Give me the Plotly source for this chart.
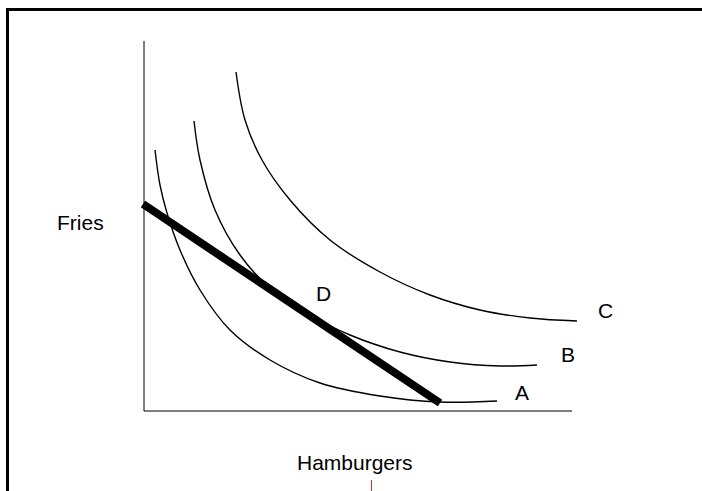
import plotly.graph_objects as go

# Indifference curves (Hamburgers on x, Fries on y)
curve_a_x = [11, 16, 23, 36, 56, 86, 126, 176, 236, 296, 353]
curve_a_y = [261, 226, 198, 161, 121, 81, 51, 28, 15, 9, 10]

curve_b_x = [50, 56, 71, 96, 128, 166, 206, 256, 306, 356, 393]
curve_b_y = [290, 251, 201, 156, 121, 96, 76, 59, 49, 45, 46]

curve_c_x = [92, 101, 118, 146, 186, 236, 286, 336, 386, 433]
curve_c_y = [339, 291, 251, 211, 171, 139, 116, 101, 93, 90]

budget_x = [-1, 296]
budget_y = [207, 8]

axis_x_end = 428
axis_y_end = 370

curve_labels = ["A", "B", "C", "D"]
label_x = [378, 424, 461, 179]
label_y = [19, 57, 101, 118]

FONT = "Liberation Sans, Arial, sans-serif"

fig = go.Figure()
for cx, cy in [(curve_a_x, curve_a_y), (curve_b_x, curve_b_y), (curve_c_x, curve_c_y)]:
    fig.add_trace(go.Scatter(x=cx, y=cy, mode="lines",
                             line=dict(color="black", width=1.4, shape="spline", smoothing=1.0),
                             hoverinfo="skip", showlegend=False))

fig.add_trace(go.Scatter(x=budget_x, y=budget_y, mode="lines",
                         line=dict(color="black", width=8),
                         hoverinfo="skip", showlegend=False))

# axes
fig.add_shape(type="line", x0=0, y0=0, x1=axis_x_end, y1=0, line=dict(color="black", width=1))
fig.add_shape(type="line", x0=0, y0=0, x1=0, y1=axis_y_end, line=dict(color="black", width=1))

# frame (top and left edges)
fig.add_shape(type="line", xref="paper", yref="paper", x0=6/702, x1=1, y0=1-9.5/491, y1=1-9.5/491,
              line=dict(color="black", width=3))
fig.add_shape(type="line", xref="paper", yref="paper", x0=7.5/702, x1=7.5/702, y0=0, y1=1-8/491,
              line=dict(color="black", width=3))
# small red mark under the axis title
fig.add_shape(type="line", xref="paper", yref="paper", x0=371.5/702, x1=371.5/702, y0=0, y1=11/491,
              line=dict(color="#d03030", width=1))

for t, x, y in zip(curve_labels, label_x, label_y):
    fig.add_annotation(x=x, y=y, text=t, showarrow=False,
                       font=dict(family=FONT, size=21, color="black"))

fig.add_annotation(x=-64, y=189, text="Fries", showarrow=False,
                   font=dict(family=FONT, size=21, color="black"))
fig.add_annotation(x=211, y=-51, text="Hamburgers", showarrow=False,
                   font=dict(family=FONT, size=21, color="black"))

fig.update_layout(
    width=702, height=491,
    margin=dict(l=0, r=0, t=0, b=0),
    paper_bgcolor="white", plot_bgcolor="white",
    xaxis=dict(range=[-144, 558], visible=False, fixedrange=True),
    yaxis=dict(range=[-80, 411], visible=False, fixedrange=True),
    showlegend=False,
)

fig.write_html("out.html", config={"displayModeBar": False},
               post_script="document.body.style.margin='0';document.body.style.overflow='hidden';")
